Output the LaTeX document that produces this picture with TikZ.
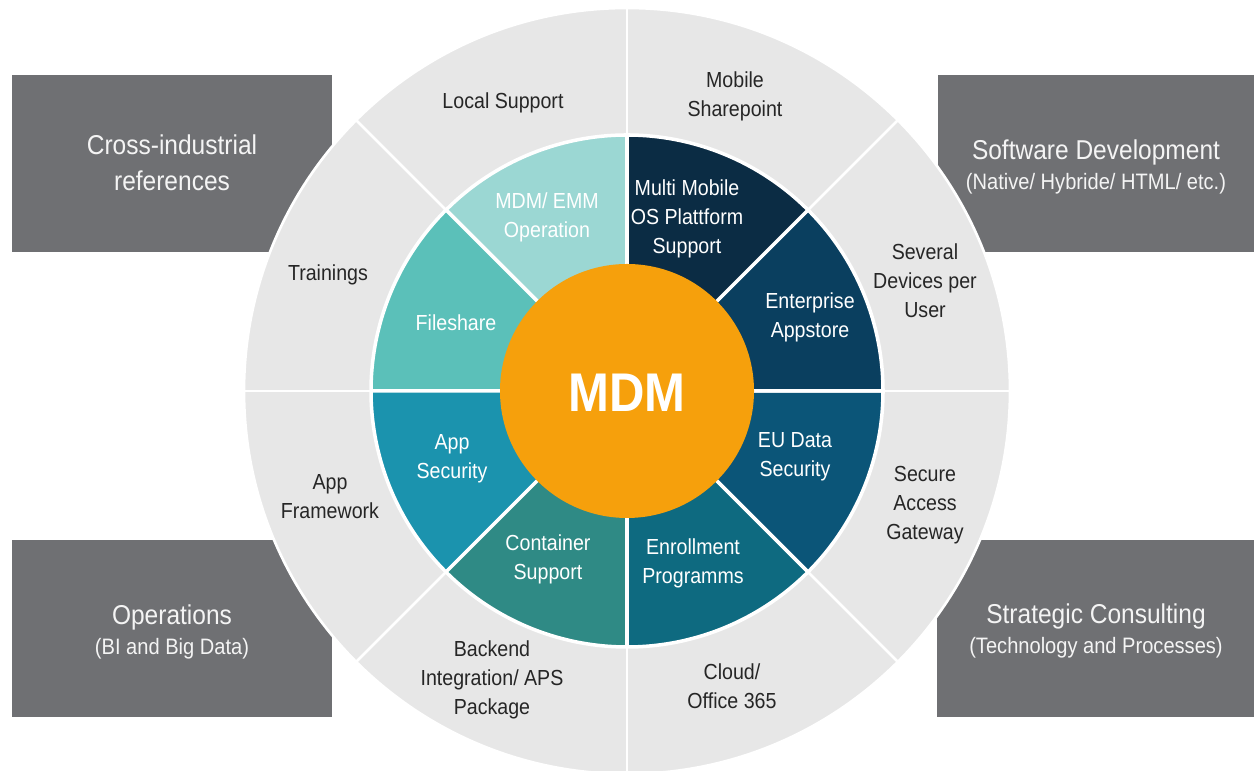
\documentclass[tikz,border=0pt]{standalone}
\usepackage{fontspec}
\setmainfont{Liberation Sans}[FakeStretch=0.9]
\definecolor{mdmOrange}{HTML}{F6A00C}
\definecolor{mdmBox}{HTML}{6F7073}
\definecolor{mdmRing}{HTML}{E7E7E7}
\definecolor{mdmInk}{HTML}{262626}
\definecolor{mdmPaper}{HTML}{F4F4F4}
\definecolor{segOperation}{HTML}{9BD7D3}
\definecolor{segFileshare}{HTML}{5BC0B9}
\definecolor{segAppSec}{HTML}{1B93AE}
\definecolor{segContainer}{HTML}{2F8A85}
\definecolor{segEnroll}{HTML}{0E6A80}
\definecolor{segDataSec}{HTML}{0B5578}
\definecolor{segAppstore}{HTML}{0A3F5F}
\definecolor{segMulti}{HTML}{0B2C44}
\usetikzlibrary{calc}
\tikzset{
  boxtitle/.style={font=\fontsize{15.5}{20.5}\selectfont, text=mdmPaper, align=center},
  outerlabel/.style={font=\fontsize{12.4}{16.5}\selectfont, text=mdmInk, align=center},
  innerlabel/.style={font=\fontsize{12.4}{16.5}\selectfont, text=white, align=center},
}
\newcommand{\subfont}{\fontsize{12.7}{16}\selectfont}

\begin{document}
\begin{tikzpicture}
  \useasboundingbox (0,0) rectangle (25.08,15.42);
  \coordinate (C) at (12.54,7.6);
  % grey corner boxes
  \fill[mdmBox] (0.24,10.38) rectangle (6.64,13.92);
  \fill[mdmBox] (18.76,10.38) rectangle (25.08,13.92);
  \fill[mdmBox] (0.24,1.08) rectangle (6.64,4.62);
  \fill[mdmBox] (18.74,1.08) rectangle (25.08,4.62);
  \node[boxtitle] (refs) at (3.44,12.16) {Cross-industrial\\references};
  \node[boxtitle] (softdev) at (21.92,12.08) {Software Development\\[-3pt]{\subfont (Native/ Hybride/ HTML/ etc.)}};
  \node[boxtitle] (ops) at (3.44,2.78) {Operations\\[-3pt]{\subfont (BI and Big Data)}};
  \node[boxtitle] (consult) at (21.92,2.80) {Strategic Consulting\\[-3pt]{\subfont (Technology and Processes)}};
  % outer ring
  \fill[mdmRing, draw=white, line width=1.5pt] (C) circle (7.66);
  \foreach \a in {0,45,...,315}
    \draw[white, line width=1.5pt] (C) -- ++(\a:7.66);
  % inner ring segments
  \foreach \a/\col in {90/segOperation,135/segFileshare,180/segAppSec,225/segContainer,
                       270/segEnroll,315/segDataSec,0/segAppstore,45/segMulti}
    \filldraw[fill=\col, draw=white, line width=2pt, line join=round]
      (C) -- ++(\a:5.12) arc[start angle=\a, delta angle=45, radius=5.12] -- cycle;
  % centre
  \fill[mdmOrange] (C) circle (2.54);
  \node[font=\fontsize{31}{36}\selectfont\bfseries, text=white] (mdm) at (12.54,7.56) {MDM};
  % outer ring labels
  \node[outerlabel] (local) at (10.06,13.36) {Local Support};
  \node[outerlabel] (sharepoint) at (14.70,13.50) {Mobile\\Sharepoint};
  \node[outerlabel] (devices) at (18.50,9.80) {Several\\Devices per\\User};
  \node[outerlabel] (gateway) at (18.50,5.32) {Secure\\Access\\Gateway};
  \node[outerlabel] (cloud) at (14.64,1.70) {Cloud/\\Office 365};
  \node[outerlabel] (backend) at (9.84,1.82) {Backend\\Integration/ APS\\Package};
  \node[outerlabel] (framework) at (6.60,5.48) {App\\Framework};
  \node[outerlabel] (trainings) at (6.56,9.92) {Trainings};
  % inner ring labels
  \node[innerlabel] (operation) at (10.94,11.08) {MDM/ EMM\\Operation};
  \node[innerlabel] (multi) at (13.74,11.04) {Multi Mobile\\OS Plattform\\Support};
  \node[innerlabel] (appstore) at (16.20,9.08) {Enterprise\\Appstore};
  \node[innerlabel] (datasec) at (15.90,6.28) {EU Data\\Security};
  \node[innerlabel] (enroll) at (13.86,4.16) {Enrollment\\Programms};
  \node[innerlabel] (container) at (10.96,4.24) {Container\\Support};
  \node[innerlabel] (appsec) at (9.04,6.24) {App\\Security};
  \node[innerlabel] (fileshare) at (9.12,8.96) {Fileshare};
\end{tikzpicture}
\end{document}
